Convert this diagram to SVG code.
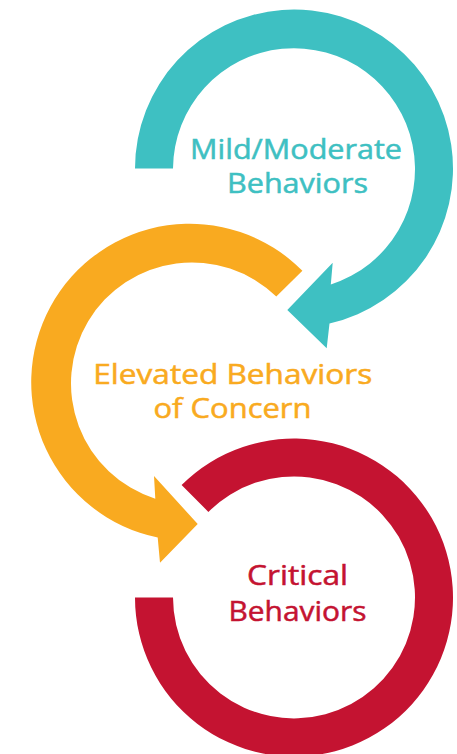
<svg xmlns="http://www.w3.org/2000/svg" width="457" height="754" viewBox="0 0 457 754">
  <style>
    .lbl { font-family: "Open Sans", "DejaVu Sans", sans-serif; font-weight: 400; font-size: 26.5px; text-anchor: middle; stroke-width: 0.5px; }
    .teal { fill: #3EC0C2; stroke: #3EC0C2; }
    .orange { fill: #F9AA20; stroke: #F9AA20; }
    .red { fill: #C41331; stroke: #C41331; }
    path.teal, path.orange, path.red { stroke: none; }
  </style>
  <rect width="457" height="754" fill="#FFFFFF"/>
  <g id="connectors">
    <path id="arrow-teal" class="teal" d="M 135 168.5 A 159 159 0 1 1 329.5 323.5 L 326.7 348.3 L 287.3 310 L 332.7 262.7 L 330.8 284.5 A 121 121 0 1 0 173 168.5 Z"/>
    <path id="arrow-orange" class="orange" d="M 302.4 270.8 A 158.5 158.5 0 1 0 157.7 537.5 L 160 562.7 L 197.7 524 L 154 476 L 155.3 498.7 A 121 121 0 1 1 276.3 296.6 Z"/>
  </g>
  <g id="node-mild">
    <text class="lbl teal" x="296" y="159" textLength="212" lengthAdjust="spacingAndGlyphs">Mild/Moderate</text>
    <text class="lbl teal" x="297.5" y="193" textLength="141" lengthAdjust="spacingAndGlyphs">Behaviors</text>
  </g>
  <g id="node-elevated">
    <text class="lbl orange" x="232.8" y="384" textLength="279" lengthAdjust="spacingAndGlyphs">Elevated Behaviors</text>
    <text class="lbl orange" x="232.5" y="418" textLength="158" lengthAdjust="spacingAndGlyphs">of Concern</text>
  </g>
  <g id="node-critical">
    <path id="ring-red" class="red" d="M 135 597.5 A 159 159 0 1 0 181.6 485.1 L 208.4 511.9 A 121 121 0 1 1 173 597.5 Z"/>
    <text class="lbl red" x="297.5" y="585" textLength="101" lengthAdjust="spacingAndGlyphs">Critical</text>
    <text class="lbl red" x="297.5" y="621" textLength="138" lengthAdjust="spacingAndGlyphs">Behaviors</text>
  </g>
</svg>
